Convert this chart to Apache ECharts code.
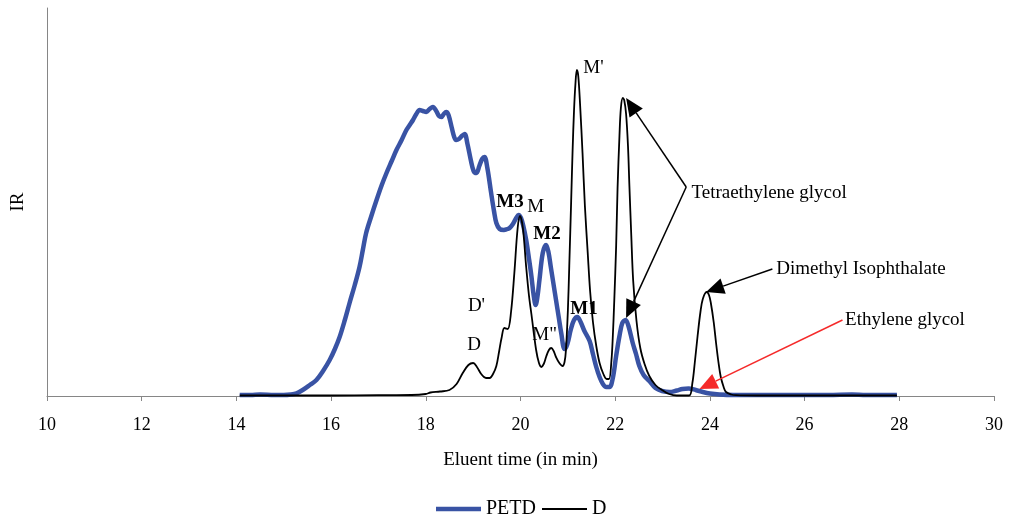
<!DOCTYPE html>
<html>
<head>
<meta charset="utf-8">
<script src="https://cdn.jsdelivr.net/npm/echarts@6/dist/echarts.min.js"></script>
<style>
  html, body { margin: 0; padding: 0; background: #fff; }
  #chart { width: 1012px; height: 521px; }
</style>
</head>
<body>
<div id="chart"></div>
<script>
// GPC traces: [eluent time (min), IR response (a.u.)]
const petdTrace = [
  [14.07,1],[14.3,1],[14.5,1.5],[14.8,1],[15.0,1],[15.15,1.5],[15.27,2.7],[15.4,6],[15.55,11],[15.69,16],
  [15.83,25],[15.97,36],[16.08,47],[16.18,59],[16.29,76],[16.39,93],[16.5,111],[16.6,129],[16.67,146],[16.74,163],
  [16.85,180],[16.96,196],[17.07,211],[17.17,223],[17.28,235],[17.38,246],[17.49,256],[17.59,266],[17.66,271],[17.73,276],
  [17.8,282],[17.87,286],[17.94,285],[18.01,284],[18.08,287],[18.15,289],[18.22,285],[18.28,280],[18.33,279],[18.38,282],
  [18.43,284],[18.48,281],[18.55,268],[18.6,259],[18.64,256],[18.7,257],[18.76,260],[18.82,262],[18.88,252],[18.95,236],
  [19.01,225],[19.07,223],[19.13,230],[19.19,237],[19.24,239],[19.3,228],[19.38,203],[19.44,185],[19.49,173],[19.56,167],
  [19.65,166],[19.72,167],[19.77,168],[19.84,172],[19.91,178],[19.96,181],[20.01,178],[20.06,170],[20.12,156],[20.18,137],
  [20.23,120],[20.28,100],[20.32,91],[20.36,100],[20.4,116],[20.47,143],[20.54,151],[20.59,144],[20.64,129],[20.7,111],
  [20.75,96],[20.81,78],[20.86,63],[20.93,47],[20.99,52],[21.06,66],[21.13,76],[21.2,79],[21.27,74],[21.35,65],
  [21.46,55],[21.53,42],[21.6,29],[21.67,19],[21.74,12],[21.81,9],[21.88,9],[21.95,18],[22.02,40],[22.09,60],
  [22.15,73],[22.22,76],[22.28,70],[22.37,53],[22.44,42],[22.51,30],[22.6,21],[22.72,15],[22.85,8],[22.99,5],
  [23.15,4],[23.3,5.5],[23.42,7],[23.55,7.5],[23.7,6],[23.85,4],[24.0,2.5],[24.2,1.5],[24.5,1],[25.0,1],
  [25.5,1],[26.0,1],[26.5,1],[27.0,1.5],[27.3,1],[27.95,1]
];

const dTrace = [
  [14.07,0.5],[15.0,0.5],[16.0,0.5],[17.0,0.8],[17.7,1],[18.0,2],[18.1,3.5],[18.3,4.5],[18.5,6],[18.65,12],
  [18.78,23],[18.9,31],[19.0,33],[19.08,29],[19.17,22],[19.27,18],[19.35,18],[19.42,22],[19.49,30],[19.55,45],
  [19.6,58],[19.66,68],[19.73,67],[19.8,84],[19.87,123],[19.94,168],[19.99,180],[20.05,168],[20.12,129],[20.18,100],
  [20.23,82],[20.33,46],[20.39,33],[20.44,29],[20.49,32],[20.54,39],[20.6,46],[20.65,48],[20.7,45],[20.75,39],
  [20.82,33],[20.89,30],[20.93,34],[20.96,46],[21.0,85],[21.03,130],[21.07,195],[21.1,245],[21.13,285],[21.16,312],
  [21.19,326],[21.22,320],[21.26,290],[21.31,243],[21.36,190],[21.42,143],[21.47,105],[21.53,74],[21.6,50],[21.67,33],
  [21.75,22],[21.82,17],[21.87,17],[21.92,35],[21.95,60],[21.98,95],[22.02,150],[22.05,208],[22.09,260],[22.12,288],
  [22.16,298],[22.19,296],[22.23,282],[22.27,250],[22.3,210],[22.34,160],[22.38,115],[22.45,75],[22.53,48],[22.62,32],
  [22.72,20],[22.85,11],[22.99,6],[23.14,2],[23.3,0.5],[23.56,0.5],[23.63,13],[23.68,33],[23.74,60],[23.8,84],
  [23.85,97],[23.93,104],[23.98,101],[24.02,93],[24.08,74],[24.13,53],[24.18,34],[24.23,19],[24.29,9],[24.34,4],
  [24.45,1.5],[24.55,0.8],[25.0,0.5],[26.0,0.5],[27.0,0.5],[27.95,0.5]
];

// Peak labels: [time, response, text, bold]
const peakLabels = [
  [21.54, 328, "M'", false],
  [20.32, 189, 'M', false],
  [19.78, 194, 'M3', true],
  [20.56, 162, 'M2', true],
  [19.07, 90, "D'", false],
  [19.02, 51, 'D', false],
  [20.51, 61, 'M"', false],
  [21.34, 87, 'M1', true],
  [25.25, 203, 'Tetraethylene glycol', false],
  [27.19, 127, 'Dimethyl Isophthalate', false],
  [28.12, 76, 'Ethylene glycol', false]
];

// Callout arrows: [from time, from response, to time, to response, colour]
const callouts = [
  [23.50, 209, 22.23, 298, '#000000'],
  [23.50, 209, 22.23, 78, '#000000'],
  [25.32, 127, 23.92, 104, '#000000'],
  [26.80, 76, 23.78, 7, '#f52a2a']
];

const xTicks = { min: 10, max: 30, interval: 2 };
const seriesNames = ['PETD', 'D'];

const font = 'Liberation Serif, Times New Roman, serif';
const HEAD_LEN = 18;
const HEAD_WIDTH = 16;

const chart = echarts.init(document.getElementById('chart'), null, { renderer: 'canvas' });

// Line with a filled triangular head whose tip sits on the target point
function renderArrow(params, api) {
  const c = callouts[params.dataIndex];
  const p1 = api.coord([api.value(0), api.value(1)]);
  const p2 = api.coord([api.value(2), api.value(3)]);
  const dx = p2[0] - p1[0], dy = p2[1] - p1[1];
  const len = Math.hypot(dx, dy);
  const ux = dx / len, uy = dy / len;
  const bx = p2[0] - ux * HEAD_LEN, by = p2[1] - uy * HEAD_LEN;
  const nx = -uy * HEAD_WIDTH / 2, ny = ux * HEAD_WIDTH / 2;
  return {
    type: 'group',
    children: [
      { type: 'line', shape: { x1: p1[0], y1: p1[1], x2: bx, y2: by },
        style: { stroke: c[4], lineWidth: 1.5 } },
      { type: 'polygon', shape: { points: [[p2[0], p2[1]], [bx + nx, by + ny], [bx - nx, by - ny]] },
        style: { fill: c[4] } }
    ]
  };
}

chart.setOption({
  animation: false,
  backgroundColor: '#ffffff',
  textStyle: { fontFamily: font, color: '#000' },
  grid: { left: 47, right: 18, top: 8, bottom: 125, containLabel: false },
  legend: {
    data: [
      { name: seriesNames[0], icon: 'path://M0,0h45v4.5h-45z' },
      { name: seriesNames[1], icon: 'path://M0,0h45v1.8h-45z' }
    ],
    left: 431,
    top: 494,
    itemWidth: 45,
    itemHeight: 14,
    itemGap: 6,
    textStyle: { fontFamily: font, fontSize: 20, color: '#000' },
    selectedMode: false
  },
  xAxis: {
    type: 'value',
    min: xTicks.min,
    max: xTicks.max,
    interval: xTicks.interval,
    name: 'Eluent time (in min)',
    nameLocation: 'middle',
    nameGap: 55,
    nameTextStyle: { fontFamily: font, fontSize: 19, color: '#000' },
    axisLine: { show: true, onZero: false, lineStyle: { color: '#868686', width: 1 } },
    axisTick: { show: true, length: 5, lineStyle: { color: '#868686' } },
    axisLabel: { margin: 20, fontFamily: font, fontSize: 18, color: '#000' },
    splitLine: { show: false }
  },
  yAxis: {
    type: 'value',
    min: 0,
    max: 388,
    name: 'IR',
    nameLocation: 'middle',
    nameGap: 19,
    nameRotate: 90,
    nameTextStyle: { fontFamily: font, fontSize: 19, color: '#000' },
    axisLine: { show: true, lineStyle: { color: '#868686', width: 1 } },
    axisTick: { show: false },
    axisLabel: { show: false },
    splitLine: { show: false }
  },
  series: [
    {
      name: seriesNames[0],
      type: 'line',
      data: petdTrace,
      smooth: 0.35,
      showSymbol: false,
      symbol: 'none',
      lineStyle: { color: '#3953a4', width: 4.5 },
      itemStyle: { color: '#3953a4' },
      z: 2
    },
    {
      name: seriesNames[1],
      type: 'line',
      data: dTrace,
      smooth: 0.35,
      showSymbol: false,
      symbol: 'none',
      lineStyle: { color: '#000000', width: 1.8 },
      itemStyle: { color: '#000000' },
      z: 3
    },
    {
      name: 'callouts',
      type: 'custom',
      silent: true,
      renderItem: renderArrow,
      encode: { x: [0, 2], y: [1, 3] },
      data: callouts.map(c => [c[0], c[1], c[2], c[3]]),
      z: 4
    },
    {
      name: 'labels',
      type: 'scatter',
      silent: true,
      symbolSize: 1,
      itemStyle: { color: 'rgba(0,0,0,0)' },
      data: peakLabels.map(p => ({
        value: [p[0], p[1]],
        name: p[2],
        label: { fontWeight: p[3] ? 'bold' : 'normal' }
      })),
      label: {
        show: true,
        position: 'inside',
        formatter: '{b}',
        fontFamily: font,
        fontSize: 19,
        color: '#000000',
        opacity: 1
      },
      z: 5
    }
  ]
});
</script>
</body>
</html>
